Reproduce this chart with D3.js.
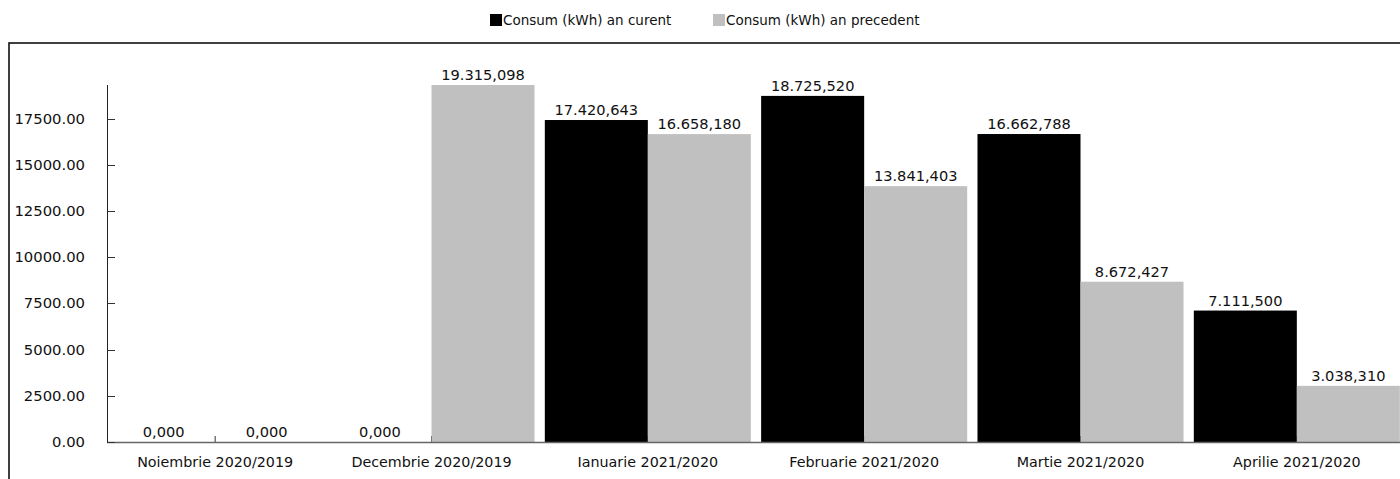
<!DOCTYPE html>
<html><head><meta charset="utf-8">
<script src="https://cdn.jsdelivr.net/npm/d3@7"></script>
<style>body{margin:0;background:#fff;} svg{display:block;font-family:"DejaVu Sans",sans-serif;}</style>
</head><body>
<svg id="c" width="1400" height="479"></svg>
<script>
const categories = ["Noiembrie 2020/2019","Decembrie 2020/2019","Ianuarie 2021/2020","Februarie 2021/2020","Martie 2021/2020","Aprilie 2021/2020"];
const seriesNames = ["Consum (kWh) an curent","Consum (kWh) an precedent"];
const current = [0, 0, 17420.643, 18725.520, 16662.788, 7111.500];
const previous = [0, 19315.098, 16658.180, 13841.403, 8672.427, 3038.310];
const yTicks = [0, 2500, 5000, 7500, 10000, 12500, 15000, 17500];
const colors = ["#000000", "#c0c0c0"];

const svg = d3.select("#c");
const loc = d3.formatLocale({decimal: ",", thousands: ".", grouping: [3], currency: ["", ""]});
const fmt = loc.format(",.3f");

// frame
svg.append("rect").attr("x", 9).attr("y", 43).attr("width", 1500).attr("height", 600)
  .attr("fill", "none").attr("stroke", "#111").attr("stroke-width", 1.6);

const x0 = d3.scaleBand().domain(categories).range([107, 1405]).paddingInner(0.0476).paddingOuter(0.0238);
const x1 = d3.scaleBand().domain([0, 1]).range([0, x0.bandwidth()]);
const y = d3.scaleLinear().domain([0, d3.max(previous.concat(current))]).range([442, 85]);

const series = [current, previous];
const data = [];
categories.forEach((c, i) => series.forEach((s, j) => data.push({c, j, v: s[i]})));

// x axis ticks (upward, at band centers) drawn under bars
const xAxisG = svg.append("g").attr("transform", "translate(0,442)");
xAxisG.selectAll("line.t").data(categories).join("line")
  .attr("x1", d => x0(d) + x0.bandwidth() / 2).attr("x2", d => x0(d) + x0.bandwidth() / 2)
  .attr("y1", 0).attr("y2", -6).attr("stroke", "#333").attr("stroke-width", 1);

svg.append("g").selectAll("rect").data(data).join("rect")
  .attr("x", d => x0(d.c) + x1(d.j)).attr("width", x1.bandwidth())
  .attr("y", d => y(d.v)).attr("height", d => y(0) - y(d.v))
  .attr("fill", d => colors[d.j]);

// baseline
svg.append("line").attr("x1", 107).attr("x2", 1400).attr("y1", 442.5).attr("y2", 442.5)
  .attr("stroke", "#666").attr("stroke-width", 1.5);

// category labels
svg.append("g").selectAll("text").data(categories).join("text")
  .attr("x", d => x0(d) + x0.bandwidth() / 2).attr("y", 467)
  .attr("text-anchor", "middle").attr("font-size", 14.3).attr("fill", "#111").text(d => d);

// y axis
svg.append("line").attr("x1", 107.5).attr("x2", 107.5).attr("y1", 85).attr("y2", 442)
  .attr("stroke", "#222").attr("stroke-width", 1);
const yg = svg.append("g");
yg.selectAll("line").data(yTicks).join("line")
  .attr("x1", 107).attr("x2", 115).attr("y1", d => Math.round(y(d)) + 0.5).attr("y2", d => Math.round(y(d)) + 0.5)
  .attr("stroke", "#333");
yg.selectAll("text").data(yTicks).join("text")
  .attr("x", 85).attr("y", d => y(d) + 5).attr("text-anchor", "end")
  .attr("font-size", 14.8).attr("fill", "#111").text(d => d3.format(".2f")(d));

// value labels
svg.append("g").selectAll("text").data(data).join("text")
  .attr("x", d => x0(d.c) + x1(d.j) + x1.bandwidth() / 2).attr("y", d => y(d.v) - 5)
  .attr("text-anchor", "middle").attr("font-size", 14.6).attr("fill", "#111").text(d => fmt(d.v));

// legend
const legX = [490, 713];
const lg = svg.append("g");
seriesNames.forEach((n, i) => {
  lg.append("rect").attr("x", legX[i]).attr("y", 14).attr("width", 12).attr("height", 12).attr("fill", colors[i]);
  lg.append("text").attr("x", legX[i] + 13).attr("y", 25).attr("font-size", 13.5).attr("fill", "#111").text(n);
});
</script>
</body></html>
